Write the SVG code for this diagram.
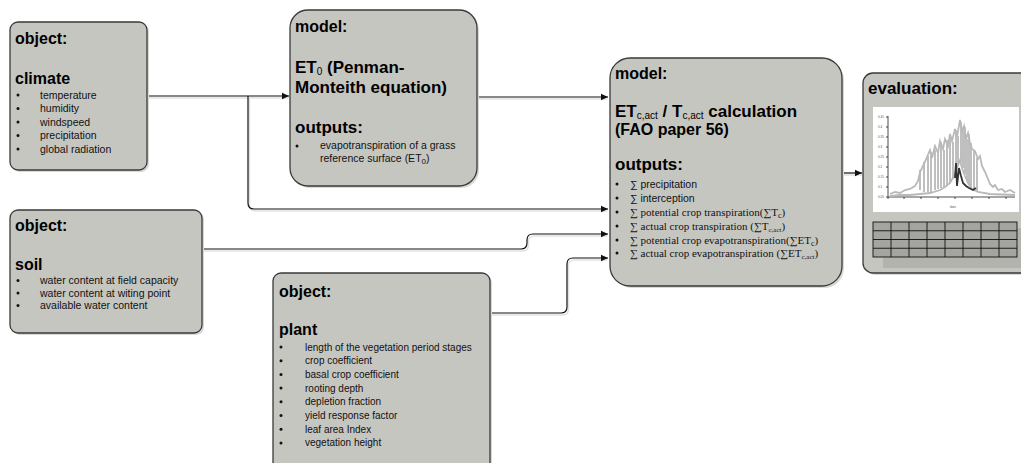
<svg xmlns="http://www.w3.org/2000/svg" width="1021" height="463" viewBox="0 0 1021 463">
<defs>
<style>
.box{fill:#c6c6c1;stroke:#3a3a3a;stroke-width:1.3}
.shd{fill:#d9d9d9;stroke:none}
.h{font-family:"Liberation Sans",Arial,sans-serif;font-weight:bold;fill:#000}
.b{font-family:"Liberation Sans",Arial,sans-serif;font-size:10.5px;fill:#111}
.s{font-family:"Liberation Serif","Times New Roman",serif;font-size:11px;fill:#111}
.p{font-family:"Liberation Sans",Arial,sans-serif;font-size:10px;fill:#111}
.ln{fill:none;stroke:#111;stroke-width:1.2}
.lns{fill:none;stroke:#e2e2e2;stroke-width:1.5}
.dot{fill:#111}
</style>
<marker id="arr" markerWidth="8" markerHeight="8" refX="7" refY="4" orient="auto" markerUnits="userSpaceOnUse">
<path d="M0,0.8 L7,4 L0,7.2 Z" fill="#111"/>
</marker>
</defs>
<rect width="1021" height="463" fill="#fff"/>

<g id="connectors">
<g class="lns" transform="translate(1.5,2)">
<path d="M147,96 H289"/>
<path d="M477,97 H606"/>
<path d="M248,97 V203 Q248,209 254,209 H606"/>
<path d="M202,249 H521 Q527,249 527,243 V240 Q527,234 533,234 H606"/>
<path d="M490,313 H561 Q567,313 567,307 V264 Q567,258 573,258 H606"/>
<path d="M842,173 H861"/>
</g>
<path class="ln" d="M147,96 H289" marker-end="url(#arr)"/>
<path class="ln" d="M477,97 H608" marker-end="url(#arr)"/>
<path class="ln" d="M248,96 V203 Q248,209 254,209 H608" marker-end="url(#arr)"/>
<path class="ln" d="M202,249 H521 Q527,249 527,243 V240 Q527,234 533,234 H608" marker-end="url(#arr)"/>
<path class="ln" d="M490,313 H561 Q567,313 567,307 V264 Q567,258 573,258 H608" marker-end="url(#arr)"/>
<path class="ln" d="M842,173 H862" marker-end="url(#arr)"/>
</g>

<g id="climate">
<rect class="shd" x="12" y="24" width="137" height="148" rx="8"/>
<rect class="box" x="10" y="22" width="137" height="148" rx="8"/>
<text class="h" x="15" y="44" font-size="16">object:</text>
<text class="h" x="15" y="84" font-size="16">climate</text>
<g class="dot"><circle cx="18" cy="95" r="1.5"/><circle cx="18" cy="108.5" r="1.5"/><circle cx="18" cy="122" r="1.5"/><circle cx="18" cy="135.5" r="1.5"/><circle cx="18" cy="149" r="1.5"/></g>
<text class="b" x="40" y="98.5">temperature</text>
<text class="b" x="40" y="112">humidity</text>
<text class="b" x="40" y="125.5">windspeed</text>
<text class="b" x="40" y="139">precipitation</text>
<text class="b" x="40" y="152.5">global radiation</text>
</g>

<g id="soil">
<rect class="shd" x="12" y="212" width="192" height="123" rx="8"/>
<rect class="box" x="10" y="210" width="192" height="123" rx="8"/>
<text class="h" x="15" y="231" font-size="16">object:</text>
<text class="h" x="15" y="270" font-size="16">soil</text>
<g class="dot"><circle cx="18" cy="280.5" r="1.5"/><circle cx="18" cy="293" r="1.5"/><circle cx="18" cy="305.5" r="1.5"/></g>
<text class="b" x="40" y="284">water content at field capacity</text>
<text class="b" x="40" y="296.5">water content at witing point</text>
<text class="b" x="40" y="309">available water content</text>
</g>

<g id="model-et0">
<rect class="shd" x="292" y="12" width="187" height="176" rx="18"/>
<rect class="box" x="290" y="10" width="187" height="176" rx="18"/>
<text class="h" x="295" y="32" font-size="16">model:</text>
<text class="h" x="295" y="73" font-size="17">ET<tspan font-size="10" font-weight="normal" dy="2">0</tspan><tspan dy="-2"> (Penman-</tspan></text>
<text class="h" x="295" y="93" font-size="17">Monteith equation)</text>
<text class="h" x="295" y="133" font-size="17">outputs:</text>
<circle class="dot" cx="297" cy="146" r="1.5"/>
<text class="b" x="320" y="149" font-size="11">evapotranspiration of a grass</text>
<text class="b" x="320" y="162" font-size="11">reference surface (ET<tspan font-size="8" dy="2">0</tspan><tspan dy="-2">)</tspan></text>
</g>

<g id="model-etc">
<rect class="shd" x="612" y="60" width="232" height="228" rx="20"/>
<rect class="box" x="610" y="58" width="232" height="228" rx="20"/>
<text class="h" x="615" y="79" font-size="16">model:</text>
<text class="h" x="615" y="117" font-size="17">ET<tspan font-size="10" font-weight="normal" dy="2">c,act</tspan><tspan dy="-2"> / T</tspan><tspan font-size="10" font-weight="normal" dy="2">c,act</tspan><tspan dy="-2"> calculation</tspan></text>
<text class="h" x="615" y="135" font-size="16">(FAO paper 56)</text>
<text class="h" x="615" y="170" font-size="17">outputs:</text>
<g class="dot"><circle cx="617" cy="184" r="1.5"/><circle cx="617" cy="198" r="1.5"/><circle cx="617" cy="212" r="1.5"/><circle cx="617" cy="226" r="1.5"/><circle cx="617" cy="240" r="1.5"/><circle cx="617" cy="253" r="1.5"/></g>
<text class="b" x="630" y="188">∑ precipitation</text>
<text class="b" x="630" y="202">∑ interception</text>
<text class="s" x="630" y="216">∑ potential crop transpiration(∑T<tspan font-size="8" dy="1.5">c</tspan><tspan dy="-1.5">)</tspan></text>
<text class="s" x="630" y="230">∑ actual crop transpiration (∑T<tspan font-size="7" dy="1.5">c,act</tspan><tspan dy="-1.5">)</tspan></text>
<text class="s" x="630" y="244">∑ potential crop evapotranspiration(∑ET<tspan font-size="8" dy="1.5">c</tspan><tspan dy="-1.5">)</tspan></text>
<text class="s" x="630" y="257">∑ actual crop evapotranspiration (∑ET<tspan font-size="7" dy="1.5">c,act</tspan><tspan dy="-1.5">)</tspan></text>
</g>

<g id="plant">
<rect class="shd" x="275" y="275" width="217" height="200" rx="8"/>
<rect class="box" x="273" y="273" width="217" height="200" rx="8"/>
<text class="h" x="279" y="297" font-size="16">object:</text>
<text class="h" x="279" y="335" font-size="16">plant</text>
<g class="dot"><circle cx="281" cy="347" r="1.5"/><circle cx="281" cy="360.7" r="1.5"/><circle cx="281" cy="374.4" r="1.5"/><circle cx="281" cy="388.1" r="1.5"/><circle cx="281" cy="401.8" r="1.5"/><circle cx="281" cy="415.5" r="1.5"/><circle cx="281" cy="429.2" r="1.5"/><circle cx="281" cy="442.9" r="1.5"/></g>
<text class="p" x="305" y="350.5">length of the vegetation period stages</text>
<text class="p" x="305" y="364.2">crop coefficient</text>
<text class="p" x="305" y="377.9">basal crop coefficient</text>
<text class="p" x="305" y="391.6">rooting depth</text>
<text class="p" x="305" y="405.3">depletion fraction</text>
<text class="p" x="305" y="419">yield response factor</text>
<text class="p" x="305" y="432.7">leaf area Index</text>
<text class="p" x="305" y="446.4">vegetation height</text>
</g>

<g id="evaluation">
<rect class="shd" x="865" y="75" width="170" height="200" rx="10"/>
<rect class="box" x="863" y="73" width="170" height="200" rx="10"/>
<text class="h" x="868" y="94" font-size="17">evaluation:</text>
<rect x="873" y="107" width="146" height="105" fill="#fff"/>
<g stroke="#222" stroke-width="0.8" fill="none">
<path d="M888,116 V197 H1015"/>
<path d="M886,117 H888 M886,127 H888 M886,137 H888 M886,147 H888 M886,157 H888 M886,167 H888 M886,177 H888 M886,187 H888 M886,197 H888"/>
<path d="M888,197 V199 M904,197 V199 M921,197 V199 M938,197 V199 M955,197 V199 M972,197 V199 M989,197 V199 M1006,197 V199"/>
</g>
<g fill="#555" font-family="Liberation Sans,Arial,sans-serif" font-size="3">
<text x="878" y="118">0.45</text><text x="878" y="128">0.4</text><text x="878" y="138">0.35</text><text x="878" y="148">0.3</text><text x="878" y="158">0.25</text><text x="878" y="168">0.2</text><text x="878" y="178">0.15</text><text x="878" y="188">0.1</text><text x="878" y="198">0.05</text>
<text x="950" y="208">date</text>
</g>
<g fill="none" stroke="#b9b9b9" stroke-width="1.8">
<polyline points="890,194 895,192 900,193 905,190 910,189 915,186 918,181 920,172 922,168 925,162 927,157 930,150 932,158 935,146 938,153 940,141 943,149 945,139 948,146 950,134 952,141 955,129 957,137 960,120 962,131 964,126 966,139 968,133 970,143 972,149 975,151 978,159 980,156 982,166 985,172 988,179 990,184 993,187 995,185 998,190 1002,189 1005,192 1010,190 1015,193"/>
<polyline points="890,196 900,195 910,195 920,194 930,193 940,190 945,187 950,183 954,176 957,168 960,160 962,168 965,176 968,183 972,189 978,192 990,194 1015,195"/>
<path d="M935,150 V190 M938,154 V189 M941,142 V188 M944,150 V187 M947,140 V185 M950,135 V183 M953,142 V179 M956,130 V172 M958,136 V166 M961,122 V162 M963,130 V168 M965,127 V174 M967,139 V180 M969,134 V184 M971,143 V187 M974,150 V189 M977,158 V191"/>
<path d="M920,170 V190 M924,162 V192 M928,156 V192 M931,152 V193"/>
</g>
<polyline fill="none" stroke="#333" stroke-width="1.8" points="955,178 956,163 957,186 959,168 961,176 963,183 966,186 969,188 973,190 976,188"/>
<rect x="883" y="228" width="150" height="40" fill="#b3b3ae"/>
<g stroke="#111" stroke-width="0.9" fill="#a4a4a0">
<rect x="873" y="222" width="144" height="35"/>
<path fill="none" d="M873,230.75 H1017 M873,239.5 H1017 M873,248.25 H1017 M891,222 V257 M909,222 V257 M927,222 V257 M945,222 V257 M963,222 V257 M981,222 V257 M999,222 V257"/>
</g>
</g>
</svg>
